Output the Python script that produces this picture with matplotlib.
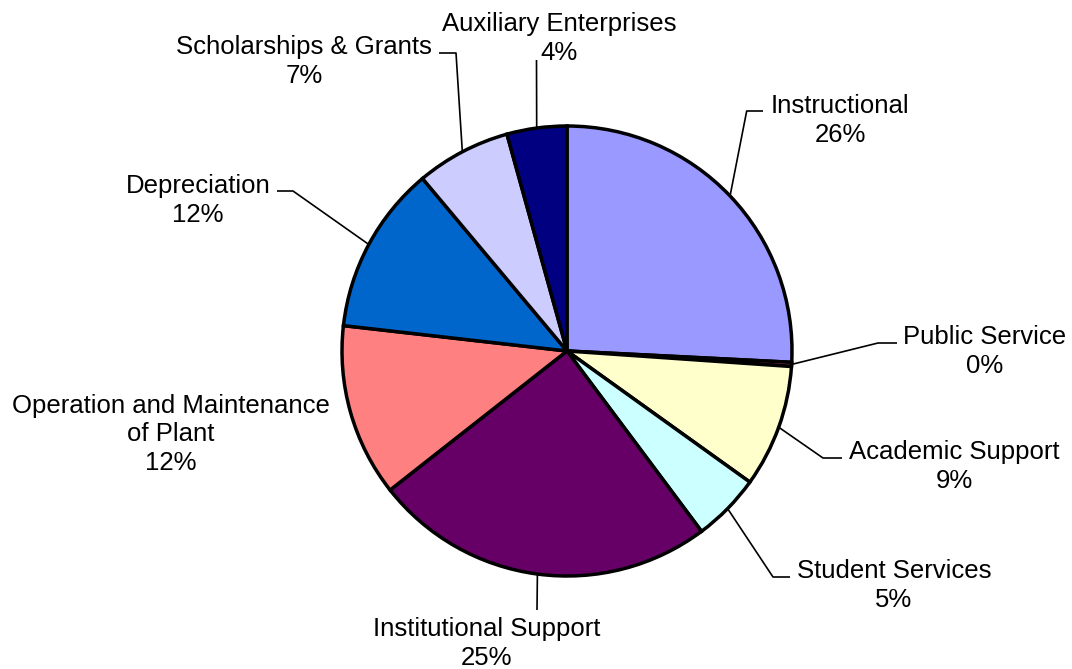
import numpy as np
import matplotlib
matplotlib.use("Agg")
import matplotlib.pyplot as plt

# expense categories, clockwise from 12 o'clock
categories = ['Instructional', 'Public Service', 'Academic Support', 'Student Services',
              'Institutional Support', 'Operation and Maintenance\nof Plant', 'Depreciation',
              'Scholarships & Grants', 'Auxiliary Enterprises']
shares = [25.8, 0.3, 8.8, 4.9, 24.6, 12.4, 12.1, 6.8, 4.3]
colors = ['#9999FF', '#993366', '#FFFFCC', '#CCFFFF', '#660066',
          '#FF8080', '#0066CC', '#CCCCFF', '#000080']

W, H = 1072, 669
cx, cy, R = 567, 351, 225   # pie centre / radius in pixels (y from top)

# label anchor (centre x, baseline of last line) and leader bends, pixels from top-left
label_pos = [(840, 142), (985, 373), (954, 488), (894, 607), (487, 665),
             (171, 470), (198, 222), (304, 83), (559, 60)]
leaders = [[(746.7, 111), (763, 111)],
           [(878, 343), (897, 343)],
           [(823, 458), (842, 458)],
           [(773, 577), (790, 577)],
           [(537, 610)],
           [],
           [(293, 191), (277, 191)],
           [(456, 53), (439, 53)],
           [(536.5, 60)]]

plt.rcParams['font.family'] = ['Liberation Sans', 'DejaVu Sans']

fig = plt.figure(figsize=(W / 100, H / 100), dpi=100)
ax = fig.add_axes([0, 0, 1, 1])

wedges, _ = ax.pie(shares, colors=colors, startangle=90, counterclock=False,
                   center=(cx, H - cy), radius=R,
                   wedgeprops=dict(edgecolor='black', linewidth=2.5))

ax.set_xlim(0, W)
ax.set_ylim(0, H)
ax.set_aspect('equal')
ax.axis('off')

total = sum(shares)
for w, name, val, (tx, ty), pts in zip(wedges, categories, shares, label_pos, leaders):
    ax.text(tx, H - ty, f"{name}\n{val / total * 100:.0f}%", ha='center', va='baseline',
            fontsize=18.5, linespacing=1.25, multialignment='center')
    if pts:
        mid = np.deg2rad((w.theta1 + w.theta2) / 2)
        ex, ey = cx + R * np.cos(mid), H - cy + R * np.sin(mid)
        xs = [ex] + [p[0] for p in pts]
        ys = [ey] + [H - p[1] for p in pts]
        ax.plot(xs, ys, color='black', lw=1.2, solid_capstyle='butt')

fig.savefig('out.png', dpi=100)
